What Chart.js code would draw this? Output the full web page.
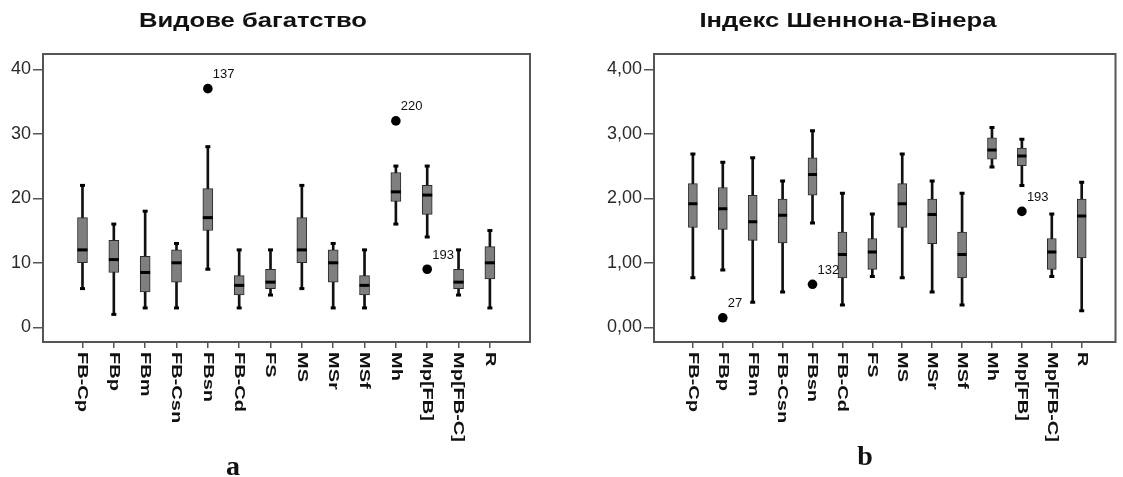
<!DOCTYPE html>
<html><head><meta charset="utf-8">
<script src="https://cdn.jsdelivr.net/npm/chart.js@4.4.0/dist/chart.umd.min.js"></script>
<style>
html,body{margin:0;padding:0;background:#fff;width:1123px;height:477px;overflow:hidden;position:relative}
canvas{position:absolute;top:0}
.title{position:absolute;top:8px;width:400px;text-align:center;font:bold 21px 'Liberation Sans',Arial,sans-serif;line-height:24px;color:#111;transform:scaleX(1.22)}
.letter{position:absolute;width:60px;text-align:center;font:bold 28px 'Liberation Serif','Times New Roman',serif;line-height:28px;color:#111}
</style></head><body>
<canvas id="ca" width="560" height="477" style="left:0"></canvas>
<canvas id="cb" width="563" height="477" style="left:560px"></canvas>
<div class="title" style="left:53px">Видове багатство</div>
<div class="title" style="left:648px">Індекс Шеннона-Вінера</div>
<div class="letter" style="left:203px;top:452px">a</div>
<div class="letter" style="left:835px;top:442px">b</div>
<script>
// ---- data ----
const categories = ['FB-Cp','FBp','FBm','FB-Csn','FBsn','FB-Cd','FS','MS','MSr','MSf','Mh','Mp[FB]','Mp[FB-C]','R'];

// a: species richness
const minA = [6, 2, 3, 3, 9, 3, 5, 6, 3, 3, 16, 14, 5, 3];
const q1A  = [10, 8.5, 5.5, 7, 15, 5, 6, 10, 7, 5, 19.5, 17.5, 6, 7.5];
const medA = [12, 10.5, 8.5, 10, 17, 6.5, 7, 12, 10, 6.5, 21, 20.5, 7, 10];
const q3A  = [17, 13.5, 11, 12, 21.5, 8, 9, 17, 12, 8, 24, 22, 9, 12.5];
const maxA = [22, 16, 18, 13, 28, 12, 12, 22, 13, 12, 25, 25, 12, 15];
const outCatA = [4, 10, 11];
const outValA = [37, 32, 9];
const outLabA = ['137', '220', '193'];
const yTicksA = [0, 10, 20, 30, 40];
const yTickLabelsA = ['0', '10', '20', '30', '40'];

// b: Shannon-Wiener index
const minB = [0.77, 0.89, 0.39, 0.55, 1.62, 0.35, 0.79, 0.77, 0.55, 0.35, 2.49, 2.20, 0.79, 0.26];
const q1B  = [1.55, 1.52, 1.35, 1.31, 2.05, 0.77, 0.90, 1.55, 1.30, 0.77, 2.61, 2.51, 0.90, 1.08];
const medB = [1.92, 1.84, 1.64, 1.74, 2.37, 1.13, 1.17, 1.92, 1.75, 1.13, 2.75, 2.66, 1.17, 1.73];
const q3B  = [2.23, 2.17, 2.05, 1.99, 2.63, 1.48, 1.38, 2.23, 1.99, 1.48, 2.94, 2.78, 1.38, 1.99];
const maxB = [2.69, 2.56, 2.63, 2.27, 3.05, 2.08, 1.76, 2.69, 2.27, 2.08, 3.10, 2.92, 1.76, 2.25];
const outCatB = [1, 4, 11];
const outValB = [0.15, 0.67, 1.80];
const outLabB = ['27', '132', '193'];
const yTicksB = [0, 1, 2, 3, 4];
const yTickLabelsB = ['0,00', '1,00', '2,00', '3,00', '4,00'];

// ---- plugins ----
const FONT = "'Liberation Sans', Arial, sans-serif";
const frame = {
  id: 'frame',
  afterDraw(chart) {
    const {ctx, chartArea: a} = chart;
    ctx.save();
    ctx.strokeStyle = '#555';
    ctx.lineWidth = 2;
    ctx.strokeRect(a.left, a.top, a.right - a.left, a.bottom - a.top);
    ctx.restore();
  }
};
const xLabels = {
  id: 'xLabels',
  afterDraw(chart) {
    const sx = chart.scales.x, ctx = chart.ctx;
    ctx.save();
    ctx.fillStyle = '#111';
    ctx.font = 'bold 20px ' + FONT;
    ctx.textAlign = 'left';
    ctx.textBaseline = 'middle';
    categories.forEach((c, i) => {
      const x = sx.getPixelForValue(i);
      ctx.save();
      ctx.translate(x, sx.top + 10);
      ctx.rotate(Math.PI / 2);
      ctx.scale(1, 0.75);
      ctx.fillText(c, 0, 0);
      ctx.restore();
    });
    ctx.restore();
  }
};
const outlierLabels = {
  id: 'outlierLabels',
  afterDatasetsDraw(chart) {
    const ctx = chart.ctx;
    chart.data.datasets.forEach((d, di) => {
      if (!d.outlierLabels) return;
      const meta = chart.getDatasetMeta(di);
      ctx.save();
      ctx.fillStyle = '#111';
      ctx.font = '13px ' + FONT;
      ctx.textAlign = 'left';
      ctx.textBaseline = 'middle';
      meta.data.forEach((pt, i) => ctx.fillText(d.outlierLabels[i], pt.x + 5, pt.y - 14));
      ctx.restore();
    });
  }
};

function makeChart(id, c) {
  const idx = categories.map((_, i) => i);
  const datasets = [
    { type: 'scatter', data: c.outCat.map((k, i) => ({x: k, y: c.outVal[i]})),
      pointRadius: 4.8, pointBackgroundColor: '#000', pointBorderColor: '#000', pointBorderWidth: 0,
      order: 0, outlierLabels: c.outLab },
    { type: 'scatter', data: idx.map(i => ({x: i, y: c.med[i]})),
      pointStyle: 'line', pointRadius: c.boxW / 2, pointBorderColor: '#000', pointBorderWidth: 3, order: 1 },
    { type: 'bar', data: idx.map(i => ({x: i, y: [c.q1[i], c.q3[i]]})),
      backgroundColor: '#7f7f7f', borderColor: '#2a2a2a', borderWidth: 1, borderSkipped: false,
      barThickness: c.boxW, grouped: false, order: 2 },
    { type: 'scatter', data: idx.map(i => ({x: i, y: c.min[i]})).concat(idx.map(i => ({x: i, y: c.max[i]}))),
      pointStyle: 'line', pointRadius: 2.5, pointBorderColor: '#000', pointBorderWidth: 3, order: 3 },
    { type: 'bar', data: idx.map(i => ({x: i, y: [c.min[i], c.max[i]]})),
      backgroundColor: '#111', borderWidth: 0, barThickness: 2, grouped: false, order: 4 }
  ];
  return new Chart(document.getElementById(id), {
    type: 'bar',
    data: { datasets },
    options: {
      responsive: false,
      animation: false,
      events: [],
      layout: { padding: { top: 54, right: c.padRight, bottom: 0, left: 0 } },
      plugins: { legend: { display: false }, tooltip: { enabled: false }, title: { display: false } },
      scales: {
        x: {
          type: 'linear', min: c.xMin, max: c.xMax, offset: false,
          afterBuildTicks: s => { s.ticks = idx.map(i => ({value: i})); },
          afterFit: s => { s.height = 135; },
          ticks: { display: false },
          grid: { display: true, drawOnChartArea: false, drawTicks: true, tickLength: 6, color: '#555', lineWidth: 1.5, offset: false },
          border: { display: false }
        },
        y: {
          type: 'linear', min: c.yMin, max: c.yMax,
          afterBuildTicks: s => { s.ticks = c.yTicks.map(v => ({value: v})); },
          afterFit: s => { s.width = c.yAxisW; },
          ticks: { callback: (v, i) => c.yTickLabels[i], font: { family: FONT, size: 18 }, color: '#2a2a2a', padding: 2, autoSkip: false },
          grid: { drawOnChartArea: false, drawTicks: true, tickLength: 10, color: '#555', lineWidth: 1.5 },
          border: { display: false }
        }
      }
    },
    plugins: [frame, xLabels, outlierLabels]
  });
}

makeChart('ca', {
  min: minA, q1: q1A, med: medA, q3: q3A, max: maxA,
  outCat: outCatA, outVal: outValA, outLab: outLabA,
  yTicks: yTicksA, yTickLabels: yTickLabelsA,
  yMin: -2.28, yMax: 42.37, xMin: -1.26, xMax: 14.28,
  yAxisW: 43, padRight: 30, boxW: 10
});
makeChart('cb', {
  min: minB, q1: q1B, med: medB, q3: q3B, max: maxB,
  outCat: outCatB, outVal: outValB, outLab: outLabB,
  yTicks: yTicksB, yTickLabels: yTickLabelsB,
  yMin: -0.225, yMax: 4.24, xMin: -1.30, xMax: 14.13,
  yAxisW: 94, padRight: 3, boxW: 9
});
</script>
</body></html>
